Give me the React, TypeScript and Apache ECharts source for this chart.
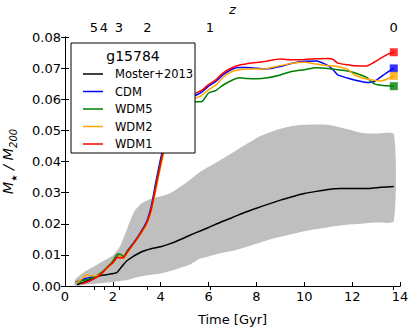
import React, { useEffect, useRef } from "react";
import * as echarts from "echarts";

// Time grid (Gyr) for simulation curves
const timeGrid = [0.45, 0.7, 0.9, 1.2, 1.5, 1.8, 2.0, 2.2, 2.3, 2.45, 2.6, 2.9, 3.1, 3.4, 3.6, 3.8, 4.0, 4.2, 4.6, 5.0, 5.4, 5.7, 6.0, 6.3, 6.6, 7.0, 7.3, 7.6, 8.0, 8.4, 9.0, 9.5, 10.0, 10.5, 11.0, 11.2, 11.4, 11.8, 12.1, 12.6, 12.9, 13.2, 13.5, 13.74];
const cdm = [0.0012, 0.0020, 0.0025, 0.0030, 0.0040, 0.0062, 0.0075, 0.0095, 0.0098, 0.0092, 0.0112, 0.0142, 0.0165, 0.0205, 0.0255, 0.0335, 0.0410, 0.0470, 0.0545, 0.0585, 0.0610, 0.0622, 0.0642, 0.0657, 0.0678, 0.0697, 0.0702, 0.0702, 0.0700, 0.0697, 0.0705, 0.0716, 0.0722, 0.0723, 0.0708, 0.0695, 0.0678, 0.0668, 0.0662, 0.0654, 0.0656, 0.0672, 0.0688, 0.0699];
const wdm5 = [0.0010, 0.0017, 0.0020, 0.0028, 0.0042, 0.0063, 0.0080, 0.0103, 0.0102, 0.0095, 0.0112, 0.0140, 0.0163, 0.0200, 0.0248, 0.0325, 0.0400, 0.0462, 0.0535, 0.0575, 0.0592, 0.0592, 0.0620, 0.0628, 0.0645, 0.0662, 0.0669, 0.0667, 0.0666, 0.0668, 0.0678, 0.0690, 0.0695, 0.0701, 0.0699, 0.0697, 0.0695, 0.0691, 0.0685, 0.0670, 0.0650, 0.0645, 0.0643, 0.0642];
const wdm2 = [0.0010, 0.0022, 0.0036, 0.0032, 0.0038, 0.0060, 0.0072, 0.0092, 0.0098, 0.0088, 0.0106, 0.0138, 0.0160, 0.0195, 0.0238, 0.0310, 0.0385, 0.0450, 0.0535, 0.0578, 0.0600, 0.0612, 0.0630, 0.0645, 0.0670, 0.0690, 0.0695, 0.0697, 0.0697, 0.0698, 0.0708, 0.0716, 0.0719, 0.0713, 0.0708, 0.0707, 0.0705, 0.0697, 0.0678, 0.0665, 0.0661, 0.0659, 0.0666, 0.0675];
const wdm1 = [null, 0.0007, 0.0012, 0.0022, 0.0038, 0.0062, 0.0075, 0.0092, 0.0090, 0.0092, 0.0108, 0.0140, 0.0162, 0.0200, 0.0245, 0.0320, 0.0395, 0.0460, 0.0545, 0.0590, 0.0617, 0.0628, 0.0647, 0.0662, 0.0684, 0.0702, 0.0710, 0.0714, 0.0718, 0.0722, 0.0729, 0.0727, 0.0728, 0.0730, 0.0731, 0.0728, 0.0716, 0.0711, 0.0708, 0.0707, 0.0718, 0.0732, 0.0745, 0.0751];

// Moster+2013 median and scatter band
const mosterTime = [0.5, 0.8, 1.25, 1.6, 1.95, 2.16, 2.37, 2.6, 3.2, 3.6, 4.0, 4.4, 4.9, 5.4, 6.0, 6.5, 7.0, 7.5, 8.0, 8.5, 9.0, 9.5, 10.0, 10.5, 11.0, 11.5, 12.0, 12.6, 13.2, 13.74];
const mosterMedian = [0.0005, 0.0012, 0.0028, 0.0035, 0.0039, 0.0043, 0.0062, 0.0082, 0.0110, 0.0120, 0.0126, 0.0136, 0.0152, 0.0169, 0.0188, 0.0205, 0.0220, 0.0236, 0.0250, 0.0263, 0.0276, 0.0287, 0.0297, 0.0304, 0.0310, 0.0313, 0.0313, 0.0313, 0.0317, 0.0320];
const bandTime = [0.42, 0.8, 1.2, 1.6, 2.0, 2.3, 2.6, 2.9, 3.2, 3.6, 4.0, 4.4, 4.8, 5.2, 5.6, 6.0, 6.5, 7.0, 7.5, 8.0, 8.5, 9.0, 9.5, 10.0, 10.5, 11.0, 11.5, 12.0, 12.5, 13.0, 13.74];
const bandUpper = [0.0020, 0.0045, 0.0062, 0.0080, 0.0098, 0.0128, 0.0185, 0.0240, 0.0265, 0.0280, 0.0288, 0.0298, 0.0318, 0.0340, 0.0364, 0.0383, 0.0405, 0.0428, 0.0452, 0.0475, 0.0492, 0.0505, 0.0514, 0.0518, 0.0519, 0.0518, 0.0509, 0.0500, 0.0491, 0.0490, 0.0488];
const bandLower = [0.0, 0.0003, 0.0007, 0.0010, 0.0013, 0.0016, 0.0019, 0.0026, 0.0031, 0.0036, 0.0040, 0.0048, 0.0058, 0.0068, 0.0087, 0.0095, 0.0105, 0.0113, 0.0124, 0.0136, 0.0148, 0.0158, 0.0167, 0.0176, 0.0183, 0.0189, 0.0194, 0.0198, 0.0201, 0.0204, 0.0208];

// Redshift axis (top)
const zTickTimes = [1.21, 1.63, 2.25, 3.44, 6.06, 13.73];
const zTickLabels = ["5", "4", "3", "2", "1", "0"];

const yTicks = ["0.00", "0.01", "0.02", "0.03", "0.04", "0.05", "0.06", "0.07", "0.08"];

const simNames = ["CDM", "WDM5", "WDM2", "WDM1"];
const simColors = ["#0000ff", "#008000", "#ffa500", "#ff0000"];
const simValues = [cdm, wdm5, wdm2, wdm1];

const FONT = "DejaVu Sans";

export default function App() {
  const ref = useRef<HTMLDivElement>(null);
  useEffect(() => {
    if (!ref.current) return;
    const chart = echarts.init(ref.current, undefined, { renderer: "svg" });
    const pairs = (ts: number[], vs: (number | null)[]) =>
      ts.map((t, i) => [t, vs[i]]).filter((p) => p[1] !== null);

    const simSeries: any[] = [];
    simNames.forEach((name, k) => {
      simSeries.push({
        name,
        type: "line",
        data: pairs(timeGrid, simValues[k]),
        showSymbol: false,
        smooth: 0.2,
        lineStyle: { color: simColors[k], width: 1.5 },
        itemStyle: { color: simColors[k] },
        z: 3,
      });
    });
    const markerSeries = simNames.map((name, k) => {
      const vs = simValues[k];
      const last = vs[vs.length - 1];
      return {
        type: "scatter",
        data: [[timeGrid[timeGrid.length - 1], last]],
        symbol: "rect",
        symbolSize: 8,
        itemStyle: { color: simColors[k] },
        z: 4,
      };
    });

    const bandSeries = {
      type: "custom",
      data: [[0, 0]],
      z: 1,
      silent: true,
      renderItem: (params: any, api: any) => {
        const pts: number[][] = [];
        bandTime.forEach((t, i) => pts.push(api.coord([t, bandUpper[i]])));
        for (let i = bandTime.length - 1; i >= 0; i--) pts.push(api.coord([bandTime[i], bandLower[i]]));
        return {
          type: "polygon",
          shape: { points: pts, smooth: 0.2 },
          style: { fill: "#bfbfbf", stroke: "none" },
        };
      },
    };

    chart.setOption({
      animation: false,
      textStyle: { fontFamily: FONT },
      grid: { left: 65, right: 16, top: 37, bottom: 44, containLabel: false, outerBoundsMode: "none" },
      xAxis: [
        {
          type: "value",
          position: "bottom",
          min: 0,
          max: 14,
          interval: 2,
          name: "Time [Gyr]",
          nameLocation: "middle",
          nameGap: 27,
          nameTextStyle: { fontSize: 13, color: "#000", fontFamily: FONT },
          axisLine: { lineStyle: { color: "#000", width: 1 } },
          axisTick: { inside: true, length: 4, lineStyle: { color: "#000" } },
          axisLabel: { fontSize: 13, color: "#000", margin: 4, fontFamily: FONT },
          splitLine: { show: false },
        },
        {
          type: "value",
          position: "top",
          min: 0,
          max: 14,
          name: "z",
          nameLocation: "middle",
          nameGap: 18,
          nameTextStyle: { fontSize: 13, color: "#000", fontStyle: "italic", fontFamily: FONT },
          axisLine: { show: true, lineStyle: { color: "#000", width: 1 } },
          axisTick: { show: true, inside: true, length: 4, customValues: zTickTimes, lineStyle: { color: "#000" } },
          axisLabel: {
            show: true,
            fontSize: 13,
            color: "#000",
            margin: 3,
            customValues: zTickTimes,
            fontFamily: FONT,
            formatter: (v: number) => {
              const i = zTickTimes.findIndex((t) => Math.abs(t - v) < 1e-6);
              return i >= 0 ? zTickLabels[i] : "";
            },
          },
          splitLine: { show: false },
        },
      ],
      yAxis: [
        {
          type: "value",
          min: 0,
          max: 0.08,
          interval: 0.01,
          name: "{m|M}{st|★}{m| / M}{s|200}",
          nameLocation: "middle",
          nameRotate: 90,
          nameGap: 47,
          nameTextStyle: {
            rich: {
              m: { fontSize: 14.5, fontStyle: "italic", color: "#000", fontFamily: FONT, lineHeight: 20, verticalAlign: "middle" },
              st: { fontSize: 8, color: "#000", fontFamily: FONT, lineHeight: 9, verticalAlign: "bottom" },
              s: { fontSize: 10, fontStyle: "italic", color: "#000", fontFamily: FONT, lineHeight: 11, verticalAlign: "bottom" },
            },
          },
          axisLine: { show: true, lineStyle: { color: "#000", width: 1 } },
          axisTick: { show: true, inside: true, length: 4, lineStyle: { color: "#000" } },
          axisLabel: {
            fontSize: 13,
            color: "#000",
            margin: 4,
            fontFamily: FONT,
            formatter: (v: number) => yTicks[Math.round(v * 100)] ?? "",
          },
          splitLine: { show: false },
        },
        {
          type: "value",
          position: "right",
          min: 0,
          max: 0.08,
          interval: 0.01,
          axisLine: { show: true, lineStyle: { color: "#000", width: 1 } },
          axisTick: { show: true, inside: true, length: 4, lineStyle: { color: "#000" } },
          axisLabel: { show: false },
          splitLine: { show: false },
        },
      ],
      legend: {
        orient: "vertical",
        left: 78,
        top: 62,
        data: ["Moster+2013", ...simNames],
        icon: "rect",
        itemWidth: 20,
        itemHeight: 1.5,
        itemGap: 3.5,
        z: 20,
        textStyle: { fontSize: 11.5, color: "#000", fontFamily: FONT, lineHeight: 14, padding: [0, 0, 0, 7] },
      },
      graphic: [
        {
          type: "rect",
          z: 15,
          shape: { x: 71, y: 43, width: 124, height: 110 },
          style: { fill: "#fff", stroke: "#000", lineWidth: 1 },
        },
        {
          type: "text",
          z: 20,
          x: 133,
          y: 56,
          style: { text: "g15784", fontSize: 14, fill: "#000", fontFamily: FONT, align: "center", verticalAlign: "middle" },
        },
      ],
      series: [
        bandSeries,
        {
          name: "Moster+2013",
          type: "line",
          data: pairs(mosterTime, mosterMedian),
          showSymbol: false,
          smooth: 0.2,
          lineStyle: { color: "#000", width: 1.5 },
          itemStyle: { color: "#000" },
          z: 2,
        },
        ...simSeries,
        ...markerSeries,
      ],
    });
    return () => chart.dispose();
  }, []);
  return <div ref={ref} style={{ width: 416, height: 330, position: "absolute", left: 0, top: 0 }} />;
}
